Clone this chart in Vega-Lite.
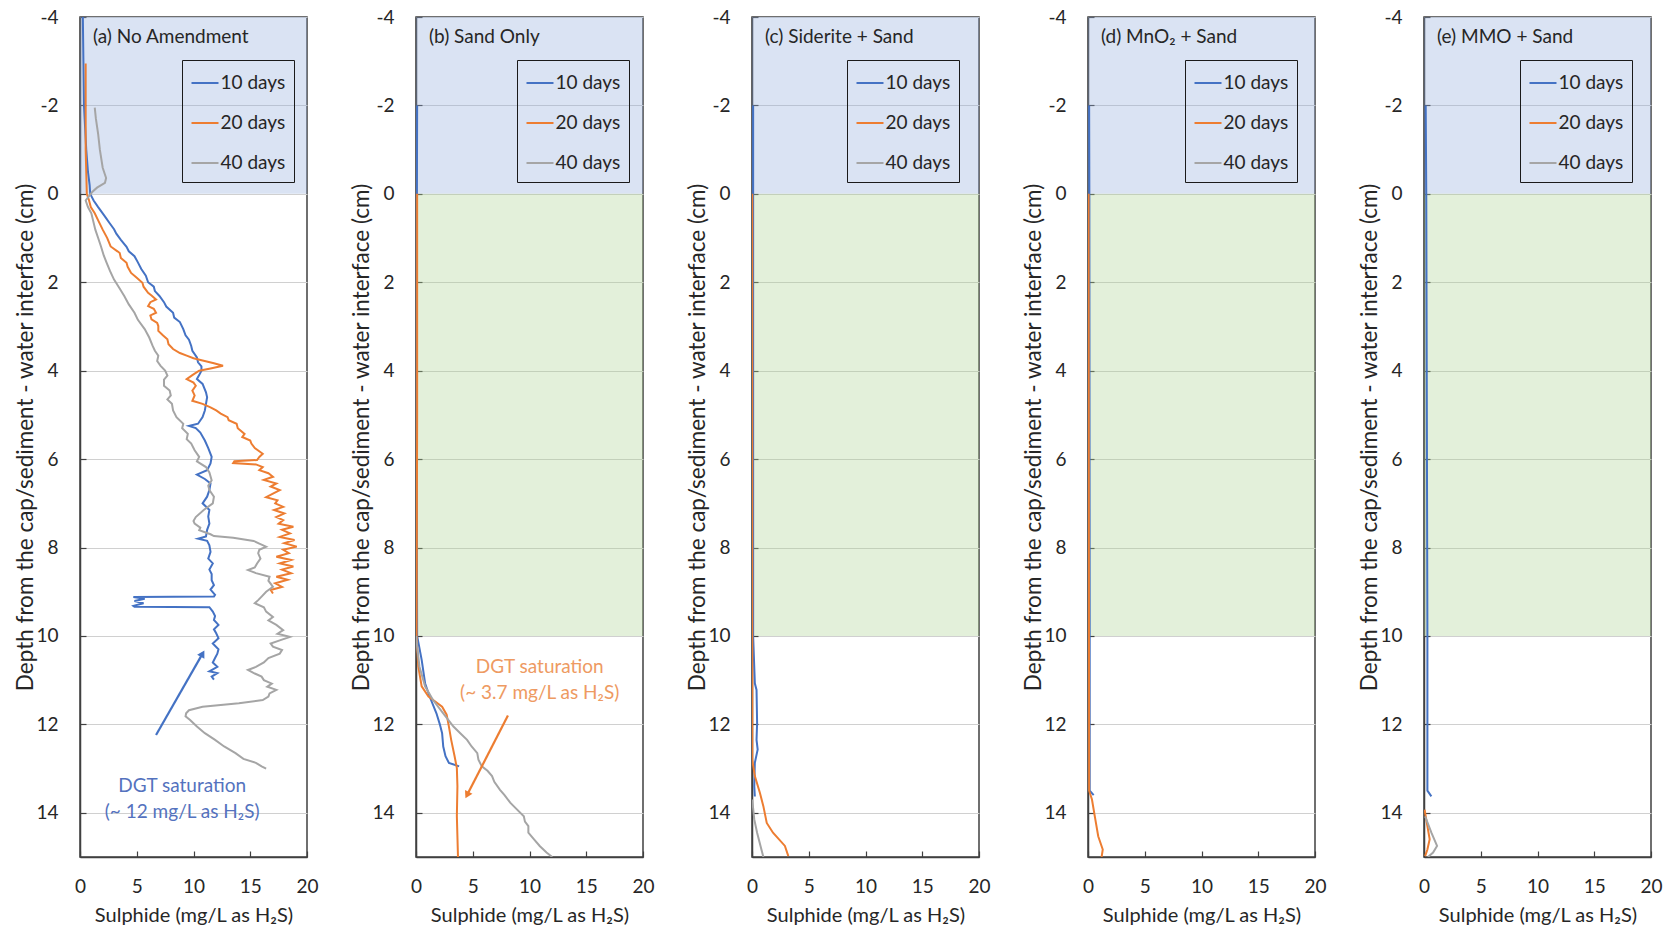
{
  "$schema": "https://vega.github.io/schema/vega-lite/v6.json",
  "padding": {"left": 14, "top": 7, "right": 4, "bottom": 0},
  "bounds": "flush",
  "spacing": 109,
  "resolve": {"legend": {"color": "independent"}},
  "config": {
    "font": "Lato",
    "view": {"stroke": "#404040", "strokeWidth": 1.5},
    "axis": {"labelFont": "Lato", "labelFontSize": 19, "labelColor": "#262626", "titleFont": "Lato", "titleFontSize": 20, "titleFontWeight": "normal", "titleColor": "#262626", "gridColor": "#D0D0D0", "gridWidth": 1, "domainColor": "#404040", "domainWidth": 1.5, "tickColor": "#404040", "tickSize": -6, "tickWidth": 1.2, "labelExpr": "'' + datum.value", "labelFlush": false},
    "axisX": {"labelPadding": 26, "titlePadding": 9},
    "axisY": {"labelPadding": 28, "titlePadding": -2, "titleFontSize": 22.5},
    "legend": {"orient": "none", "strokeColor": "#1a1a1a", "padding": 8.5, "symbolType": "stroke", "symbolSize": 729, "symbolStrokeWidth": 2, "labelFont": "Lato", "labelFontSize": 19, "labelColor": "#262626", "rowPadding": 15, "labelOffset": 1, "cornerRadius": 0, "title": null},
    "title": {"font": "Lato", "fontSize": 19, "fontWeight": "normal", "color": "#262626", "anchor": "start", "frame": "group", "offset": -39, "dx": 13}
  },
  "datasets": {
    "zones": [
      {"panel": "a", "zone": "water", "top": -4, "bottom": 0},
      {"panel": "b", "zone": "water", "top": -4, "bottom": 0},
      {"panel": "b", "zone": "cap", "top": 0, "bottom": 10},
      {"panel": "c", "zone": "water", "top": -4, "bottom": 0},
      {"panel": "c", "zone": "cap", "top": 0, "bottom": 10},
      {"panel": "d", "zone": "water", "top": -4, "bottom": 0},
      {"panel": "d", "zone": "cap", "top": 0, "bottom": 10},
      {"panel": "e", "zone": "water", "top": -4, "bottom": 0},
      {"panel": "e", "zone": "cap", "top": 0, "bottom": 10}
    ],
    "notes": [
      {"panel": "a", "label": "DGT saturation\n(~ 12 mg/L as H₂S)", "sulphide": 9.0, "depth": 13.4, "from_sulphide": 6.7, "from_depth": 12.24, "to_sulphide": 10.8, "to_depth": 10.4},
      {"panel": "b", "label": "DGT saturation\n(~ 3.7 mg/L as H₂S)", "sulphide": 10.9, "depth": 10.7, "from_sulphide": 8.1, "from_depth": 11.8, "to_sulphide": 4.5, "to_depth": 13.6}
    ],
    "profiles": [
      {"panel":"a","series":"10 days","depth":-4,"sulphide":0.25},
      {"panel":"a","series":"10 days","depth":-3,"sulphide":0.3},
      {"panel":"a","series":"10 days","depth":-2,"sulphide":0.35},
      {"panel":"a","series":"10 days","depth":-1.5,"sulphide":0.45},
      {"panel":"a","series":"10 days","depth":-1,"sulphide":0.55},
      {"panel":"a","series":"10 days","depth":-0.5,"sulphide":0.7},
      {"panel":"a","series":"10 days","depth":-0.2,"sulphide":0.85},
      {"panel":"a","series":"10 days","depth":0,"sulphide":0.9},
      {"panel":"a","series":"10 days","depth":0.15,"sulphide":1.2},
      {"panel":"a","series":"10 days","depth":0.3,"sulphide":1.6},
      {"panel":"a","series":"10 days","depth":0.44,"sulphide":2.0},
      {"panel":"a","series":"10 days","depth":0.55,"sulphide":2.3},
      {"panel":"a","series":"10 days","depth":0.66,"sulphide":2.6},
      {"panel":"a","series":"10 days","depth":0.8,"sulphide":3.0},
      {"panel":"a","series":"10 days","depth":0.9,"sulphide":3.2},
      {"panel":"a","series":"10 days","depth":1.04,"sulphide":3.6},
      {"panel":"a","series":"10 days","depth":1.2,"sulphide":4.1},
      {"panel":"a","series":"10 days","depth":1.3,"sulphide":4.3},
      {"panel":"a","series":"10 days","depth":1.41,"sulphide":4.8},
      {"panel":"a","series":"10 days","depth":1.55,"sulphide":5.1},
      {"panel":"a","series":"10 days","depth":1.7,"sulphide":5.4},
      {"panel":"a","series":"10 days","depth":1.85,"sulphide":5.8},
      {"panel":"a","series":"10 days","depth":2.0,"sulphide":6.0},
      {"panel":"a","series":"10 days","depth":2.1,"sulphide":6.5},
      {"panel":"a","series":"10 days","depth":2.2,"sulphide":6.6},
      {"panel":"a","series":"10 days","depth":2.31,"sulphide":7.0},
      {"panel":"a","series":"10 days","depth":2.45,"sulphide":7.4},
      {"panel":"a","series":"10 days","depth":2.55,"sulphide":7.6},
      {"panel":"a","series":"10 days","depth":2.69,"sulphide":8.2},
      {"panel":"a","series":"10 days","depth":2.8,"sulphide":8.3},
      {"panel":"a","series":"10 days","depth":2.9,"sulphide":8.8},
      {"panel":"a","series":"10 days","depth":3.06,"sulphide":9.1},
      {"panel":"a","series":"10 days","depth":3.2,"sulphide":9.3},
      {"panel":"a","series":"10 days","depth":3.3,"sulphide":9.6},
      {"panel":"a","series":"10 days","depth":3.44,"sulphide":9.8},
      {"panel":"a","series":"10 days","depth":3.55,"sulphide":9.9},
      {"panel":"a","series":"10 days","depth":3.7,"sulphide":10.3},
      {"panel":"a","series":"10 days","depth":3.81,"sulphide":10.4},
      {"panel":"a","series":"10 days","depth":3.9,"sulphide":10.7},
      {"panel":"a","series":"10 days","depth":4.0,"sulphide":10.7},
      {"panel":"a","series":"10 days","depth":4.1,"sulphide":10.5},
      {"panel":"a","series":"10 days","depth":4.19,"sulphide":10.3},
      {"panel":"a","series":"10 days","depth":4.3,"sulphide":10.8},
      {"panel":"a","series":"10 days","depth":4.49,"sulphide":11.1},
      {"panel":"a","series":"10 days","depth":4.6,"sulphide":11.2},
      {"panel":"a","series":"10 days","depth":4.75,"sulphide":11.1},
      {"panel":"a","series":"10 days","depth":4.9,"sulphide":11.0},
      {"panel":"a","series":"10 days","depth":5.05,"sulphide":10.8},
      {"panel":"a","series":"10 days","depth":5.2,"sulphide":10.4},
      {"panel":"a","series":"10 days","depth":5.25,"sulphide":9.6},
      {"panel":"a","series":"10 days","depth":5.3,"sulphide":10.2},
      {"panel":"a","series":"10 days","depth":5.4,"sulphide":10.6},
      {"panel":"a","series":"10 days","depth":5.58,"sulphide":11.0},
      {"panel":"a","series":"10 days","depth":5.75,"sulphide":11.3},
      {"panel":"a","series":"10 days","depth":5.95,"sulphide":11.6},
      {"panel":"a","series":"10 days","depth":6.1,"sulphide":11.5},
      {"panel":"a","series":"10 days","depth":6.25,"sulphide":11.2},
      {"panel":"a","series":"10 days","depth":6.35,"sulphide":10.3},
      {"panel":"a","series":"10 days","depth":6.45,"sulphide":11.0},
      {"panel":"a","series":"10 days","depth":6.55,"sulphide":11.5},
      {"panel":"a","series":"10 days","depth":6.7,"sulphide":11.4},
      {"panel":"a","series":"10 days","depth":6.85,"sulphide":11.2},
      {"panel":"a","series":"10 days","depth":7.0,"sulphide":10.8},
      {"panel":"a","series":"10 days","depth":7.15,"sulphide":11.4},
      {"panel":"a","series":"10 days","depth":7.3,"sulphide":11.3},
      {"panel":"a","series":"10 days","depth":7.46,"sulphide":11.4},
      {"panel":"a","series":"10 days","depth":7.6,"sulphide":11.2},
      {"panel":"a","series":"10 days","depth":7.75,"sulphide":11.1},
      {"panel":"a","series":"10 days","depth":7.8,"sulphide":10.4},
      {"panel":"a","series":"10 days","depth":7.85,"sulphide":11.2},
      {"panel":"a","series":"10 days","depth":7.95,"sulphide":11.4},
      {"panel":"a","series":"10 days","depth":8.1,"sulphide":11.5},
      {"panel":"a","series":"10 days","depth":8.25,"sulphide":11.3},
      {"panel":"a","series":"10 days","depth":8.36,"sulphide":11.7},
      {"panel":"a","series":"10 days","depth":8.5,"sulphide":11.4},
      {"panel":"a","series":"10 days","depth":8.6,"sulphide":11.6},
      {"panel":"a","series":"10 days","depth":8.74,"sulphide":11.6},
      {"panel":"a","series":"10 days","depth":8.85,"sulphide":11.8},
      {"panel":"a","series":"10 days","depth":8.95,"sulphide":11.5},
      {"panel":"a","series":"10 days","depth":9.07,"sulphide":11.9},
      {"panel":"a","series":"10 days","depth":9.11,"sulphide":11.8},
      {"panel":"a","series":"10 days","depth":9.12,"sulphide":4.7},
      {"panel":"a","series":"10 days","depth":9.16,"sulphide":5.7},
      {"panel":"a","series":"10 days","depth":9.21,"sulphide":4.8},
      {"panel":"a","series":"10 days","depth":9.26,"sulphide":5.6},
      {"panel":"a","series":"10 days","depth":9.32,"sulphide":4.7},
      {"panel":"a","series":"10 days","depth":9.34,"sulphide":4.8},
      {"panel":"a","series":"10 days","depth":9.35,"sulphide":11.4},
      {"panel":"a","series":"10 days","depth":9.45,"sulphide":11.7},
      {"panel":"a","series":"10 days","depth":9.55,"sulphide":11.9},
      {"panel":"a","series":"10 days","depth":9.64,"sulphide":11.8},
      {"panel":"a","series":"10 days","depth":9.75,"sulphide":12.2},
      {"panel":"a","series":"10 days","depth":9.85,"sulphide":11.8},
      {"panel":"a","series":"10 days","depth":9.94,"sulphide":12.0},
      {"panel":"a","series":"10 days","depth":10.05,"sulphide":12.2},
      {"panel":"a","series":"10 days","depth":10.17,"sulphide":11.7},
      {"panel":"a","series":"10 days","depth":10.3,"sulphide":12.2},
      {"panel":"a","series":"10 days","depth":10.4,"sulphide":12.1},
      {"panel":"a","series":"10 days","depth":10.5,"sulphide":11.9},
      {"panel":"a","series":"10 days","depth":10.6,"sulphide":11.7},
      {"panel":"a","series":"10 days","depth":10.7,"sulphide":12.1},
      {"panel":"a","series":"10 days","depth":10.8,"sulphide":11.4},
      {"panel":"a","series":"10 days","depth":10.84,"sulphide":12.1},
      {"panel":"a","series":"10 days","depth":10.92,"sulphide":11.6},
      {"panel":"a","series":"10 days","depth":10.99,"sulphide":11.8},

      {"panel":"a","series":"20 days","depth":-2.95,"sulphide":0.5},
      {"panel":"a","series":"20 days","depth":-2,"sulphide":0.5},
      {"panel":"a","series":"20 days","depth":-1,"sulphide":0.5},
      {"panel":"a","series":"20 days","depth":0,"sulphide":0.6},
      {"panel":"a","series":"20 days","depth":0.15,"sulphide":0.8},
      {"panel":"a","series":"20 days","depth":0.3,"sulphide":0.95},
      {"panel":"a","series":"20 days","depth":0.44,"sulphide":1.3},
      {"panel":"a","series":"20 days","depth":0.6,"sulphide":1.6},
      {"panel":"a","series":"20 days","depth":0.81,"sulphide":2.0},
      {"panel":"a","series":"20 days","depth":1.0,"sulphide":2.4},
      {"panel":"a","series":"20 days","depth":1.19,"sulphide":2.7},
      {"panel":"a","series":"20 days","depth":1.3,"sulphide":3.3},
      {"panel":"a","series":"20 days","depth":1.34,"sulphide":3.5},
      {"panel":"a","series":"20 days","depth":1.45,"sulphide":3.6},
      {"panel":"a","series":"20 days","depth":1.56,"sulphide":4.1},
      {"panel":"a","series":"20 days","depth":1.65,"sulphide":4.2},
      {"panel":"a","series":"20 days","depth":1.79,"sulphide":4.5},
      {"panel":"a","series":"20 days","depth":1.9,"sulphide":5.0},
      {"panel":"a","series":"20 days","depth":2.01,"sulphide":5.5},
      {"panel":"a","series":"20 days","depth":2.1,"sulphide":5.6},
      {"panel":"a","series":"20 days","depth":2.24,"sulphide":6.0},
      {"panel":"a","series":"20 days","depth":2.3,"sulphide":6.3},
      {"panel":"a","series":"20 days","depth":2.39,"sulphide":6.7},
      {"panel":"a","series":"20 days","depth":2.45,"sulphide":6.2},
      {"panel":"a","series":"20 days","depth":2.54,"sulphide":6.0},
      {"panel":"a","series":"20 days","depth":2.6,"sulphide":6.5},
      {"panel":"a","series":"20 days","depth":2.69,"sulphide":6.7},
      {"panel":"a","series":"20 days","depth":2.75,"sulphide":6.2},
      {"panel":"a","series":"20 days","depth":2.84,"sulphide":6.3},
      {"panel":"a","series":"20 days","depth":2.92,"sulphide":6.8},
      {"panel":"a","series":"20 days","depth":2.99,"sulphide":6.9},
      {"panel":"a","series":"20 days","depth":3.1,"sulphide":6.9},
      {"panel":"a","series":"20 days","depth":3.2,"sulphide":7.3},
      {"panel":"a","series":"20 days","depth":3.29,"sulphide":7.7},
      {"panel":"a","series":"20 days","depth":3.4,"sulphide":7.8},
      {"panel":"a","series":"20 days","depth":3.51,"sulphide":8.2},
      {"panel":"a","series":"20 days","depth":3.6,"sulphide":8.8},
      {"panel":"a","series":"20 days","depth":3.66,"sulphide":9.4},
      {"panel":"a","series":"20 days","depth":3.72,"sulphide":10.0},
      {"panel":"a","series":"20 days","depth":3.77,"sulphide":10.8},
      {"panel":"a","series":"20 days","depth":3.83,"sulphide":11.8},
      {"panel":"a","series":"20 days","depth":3.89,"sulphide":12.6},
      {"panel":"a","series":"20 days","depth":3.95,"sulphide":11.5},
      {"panel":"a","series":"20 days","depth":4.0,"sulphide":10.5},
      {"panel":"a","series":"20 days","depth":4.1,"sulphide":9.9},
      {"panel":"a","series":"20 days","depth":4.19,"sulphide":9.4},
      {"panel":"a","series":"20 days","depth":4.27,"sulphide":10.0},
      {"panel":"a","series":"20 days","depth":4.34,"sulphide":10.2},
      {"panel":"a","series":"20 days","depth":4.45,"sulphide":9.9},
      {"panel":"a","series":"20 days","depth":4.56,"sulphide":10.1},
      {"panel":"a","series":"20 days","depth":4.68,"sulphide":9.9},
      {"panel":"a","series":"20 days","depth":4.75,"sulphide":10.8},
      {"panel":"a","series":"20 days","depth":4.83,"sulphide":11.5},
      {"panel":"a","series":"20 days","depth":4.9,"sulphide":12.0},
      {"panel":"a","series":"20 days","depth":4.97,"sulphide":12.4},
      {"panel":"a","series":"20 days","depth":5.05,"sulphide":13.0},
      {"panel":"a","series":"20 days","depth":5.12,"sulphide":13.1},
      {"panel":"a","series":"20 days","depth":5.2,"sulphide":13.8},
      {"panel":"a","series":"20 days","depth":5.3,"sulphide":13.9},
      {"panel":"a","series":"20 days","depth":5.43,"sulphide":14.5},
      {"panel":"a","series":"20 days","depth":5.5,"sulphide":14.3},
      {"panel":"a","series":"20 days","depth":5.58,"sulphide":15.0},
      {"panel":"a","series":"20 days","depth":5.65,"sulphide":15.1},
      {"panel":"a","series":"20 days","depth":5.75,"sulphide":15.4},
      {"panel":"a","series":"20 days","depth":5.88,"sulphide":16.1},
      {"panel":"a","series":"20 days","depth":5.95,"sulphide":15.8},
      {"panel":"a","series":"20 days","depth":6.02,"sulphide":15.6},
      {"panel":"a","series":"20 days","depth":6.05,"sulphide":13.6},
      {"panel":"a","series":"20 days","depth":6.09,"sulphide":13.5},
      {"panel":"a","series":"20 days","depth":6.12,"sulphide":15.5},
      {"panel":"a","series":"20 days","depth":6.18,"sulphide":16.1},
      {"panel":"a","series":"20 days","depth":6.25,"sulphide":15.8},
      {"panel":"a","series":"20 days","depth":6.32,"sulphide":16.6},
      {"panel":"a","series":"20 days","depth":6.4,"sulphide":17.0},
      {"panel":"a","series":"20 days","depth":6.47,"sulphide":16.2},
      {"panel":"a","series":"20 days","depth":6.55,"sulphide":17.3},
      {"panel":"a","series":"20 days","depth":6.62,"sulphide":16.8},
      {"panel":"a","series":"20 days","depth":6.7,"sulphide":17.6},
      {"panel":"a","series":"20 days","depth":6.78,"sulphide":17.0},
      {"panel":"a","series":"20 days","depth":6.86,"sulphide":16.4},
      {"panel":"a","series":"20 days","depth":6.93,"sulphide":17.4},
      {"panel":"a","series":"20 days","depth":7.0,"sulphide":17.2},
      {"panel":"a","series":"20 days","depth":7.08,"sulphide":17.9},
      {"panel":"a","series":"20 days","depth":7.15,"sulphide":17.1},
      {"panel":"a","series":"20 days","depth":7.23,"sulphide":18.0},
      {"panel":"a","series":"20 days","depth":7.31,"sulphide":17.3},
      {"panel":"a","series":"20 days","depth":7.38,"sulphide":17.9},
      {"panel":"a","series":"20 days","depth":7.46,"sulphide":17.5},
      {"panel":"a","series":"20 days","depth":7.53,"sulphide":18.8},
      {"panel":"a","series":"20 days","depth":7.6,"sulphide":17.8},
      {"panel":"a","series":"20 days","depth":7.68,"sulphide":18.5},
      {"panel":"a","series":"20 days","depth":7.76,"sulphide":17.6},
      {"panel":"a","series":"20 days","depth":7.83,"sulphide":18.9},
      {"panel":"a","series":"20 days","depth":7.9,"sulphide":18.0},
      {"panel":"a","series":"20 days","depth":7.98,"sulphide":19.1},
      {"panel":"a","series":"20 days","depth":8.05,"sulphide":17.9},
      {"panel":"a","series":"20 days","depth":8.13,"sulphide":18.4},
      {"panel":"a","series":"20 days","depth":8.21,"sulphide":17.3},
      {"panel":"a","series":"20 days","depth":8.28,"sulphide":18.6},
      {"panel":"a","series":"20 days","depth":8.36,"sulphide":17.6},
      {"panel":"a","series":"20 days","depth":8.43,"sulphide":18.8},
      {"panel":"a","series":"20 days","depth":8.5,"sulphide":17.8},
      {"panel":"a","series":"20 days","depth":8.58,"sulphide":18.6},
      {"panel":"a","series":"20 days","depth":8.66,"sulphide":17.3},
      {"panel":"a","series":"20 days","depth":8.73,"sulphide":18.3},
      {"panel":"a","series":"20 days","depth":8.81,"sulphide":17.2},
      {"panel":"a","series":"20 days","depth":8.89,"sulphide":17.8},
      {"panel":"a","series":"20 days","depth":8.96,"sulphide":16.8},
      {"panel":"a","series":"20 days","depth":9.04,"sulphide":17.0},

      {"panel":"a","series":"40 days","depth":-1.95,"sulphide":1.3},
      {"panel":"a","series":"40 days","depth":-1.7,"sulphide":1.4},
      {"panel":"a","series":"40 days","depth":-1.35,"sulphide":1.6},
      {"panel":"a","series":"40 days","depth":-1.0,"sulphide":1.75},
      {"panel":"a","series":"40 days","depth":-0.59,"sulphide":2.0},
      {"panel":"a","series":"40 days","depth":-0.36,"sulphide":2.3},
      {"panel":"a","series":"40 days","depth":-0.25,"sulphide":2.2},
      {"panel":"a","series":"40 days","depth":-0.14,"sulphide":1.5},
      {"panel":"a","series":"40 days","depth":-0.05,"sulphide":1.1},
      {"panel":"a","series":"40 days","depth":0.0,"sulphide":0.95},
      {"panel":"a","series":"40 days","depth":0.15,"sulphide":0.5},
      {"panel":"a","series":"40 days","depth":0.3,"sulphide":0.7},
      {"panel":"a","series":"40 days","depth":0.44,"sulphide":1.0},
      {"panel":"a","series":"40 days","depth":0.6,"sulphide":1.15},
      {"panel":"a","series":"40 days","depth":0.81,"sulphide":1.35},
      {"panel":"a","series":"40 days","depth":1.0,"sulphide":1.6},
      {"panel":"a","series":"40 days","depth":1.19,"sulphide":1.85},
      {"panel":"a","series":"40 days","depth":1.4,"sulphide":2.1},
      {"panel":"a","series":"40 days","depth":1.56,"sulphide":2.35},
      {"panel":"a","series":"40 days","depth":1.75,"sulphide":2.65},
      {"panel":"a","series":"40 days","depth":1.94,"sulphide":3.0},
      {"panel":"a","series":"40 days","depth":2.1,"sulphide":3.4},
      {"panel":"a","series":"40 days","depth":2.31,"sulphide":3.9},
      {"panel":"a","series":"40 days","depth":2.5,"sulphide":4.3},
      {"panel":"a","series":"40 days","depth":2.69,"sulphide":4.8},
      {"panel":"a","series":"40 days","depth":2.85,"sulphide":5.1},
      {"panel":"a","series":"40 days","depth":3.06,"sulphide":5.7},
      {"panel":"a","series":"40 days","depth":3.25,"sulphide":6.1},
      {"panel":"a","series":"40 days","depth":3.44,"sulphide":6.4},
      {"panel":"a","series":"40 days","depth":3.55,"sulphide":6.6},
      {"panel":"a","series":"40 days","depth":3.66,"sulphide":6.9},
      {"panel":"a","series":"40 days","depth":3.78,"sulphide":6.8},
      {"panel":"a","series":"40 days","depth":3.89,"sulphide":7.1},
      {"panel":"a","series":"40 days","depth":4.0,"sulphide":7.5},
      {"panel":"a","series":"40 days","depth":4.11,"sulphide":7.7},
      {"panel":"a","series":"40 days","depth":4.2,"sulphide":7.4},
      {"panel":"a","series":"40 days","depth":4.34,"sulphide":7.4},
      {"panel":"a","series":"40 days","depth":4.45,"sulphide":7.9},
      {"panel":"a","series":"40 days","depth":4.56,"sulphide":8.0},
      {"panel":"a","series":"40 days","depth":4.65,"sulphide":7.7},
      {"panel":"a","series":"40 days","depth":4.75,"sulphide":8.1},
      {"panel":"a","series":"40 days","depth":4.9,"sulphide":8.2},
      {"panel":"a","series":"40 days","depth":5.05,"sulphide":8.5},
      {"panel":"a","series":"40 days","depth":5.2,"sulphide":9.1},
      {"panel":"a","series":"40 days","depth":5.3,"sulphide":9.0},
      {"panel":"a","series":"40 days","depth":5.43,"sulphide":9.5},
      {"panel":"a","series":"40 days","depth":5.55,"sulphide":9.4},
      {"panel":"a","series":"40 days","depth":5.65,"sulphide":9.8},
      {"panel":"a","series":"40 days","depth":5.8,"sulphide":10.1},
      {"panel":"a","series":"40 days","depth":5.95,"sulphide":10.5},
      {"panel":"a","series":"40 days","depth":6.05,"sulphide":10.3},
      {"panel":"a","series":"40 days","depth":6.18,"sulphide":11.1},
      {"panel":"a","series":"40 days","depth":6.3,"sulphide":11.4},
      {"panel":"a","series":"40 days","depth":6.48,"sulphide":11.6},
      {"panel":"a","series":"40 days","depth":6.6,"sulphide":11.3},
      {"panel":"a","series":"40 days","depth":6.7,"sulphide":11.4},
      {"panel":"a","series":"40 days","depth":6.85,"sulphide":11.8},
      {"panel":"a","series":"40 days","depth":7.0,"sulphide":11.7},
      {"panel":"a","series":"40 days","depth":7.15,"sulphide":10.9},
      {"panel":"a","series":"40 days","depth":7.31,"sulphide":10.2},
      {"panel":"a","series":"40 days","depth":7.4,"sulphide":10.0},
      {"panel":"a","series":"40 days","depth":7.46,"sulphide":10.1},
      {"panel":"a","series":"40 days","depth":7.55,"sulphide":10.6},
      {"panel":"a","series":"40 days","depth":7.61,"sulphide":10.5},
      {"panel":"a","series":"40 days","depth":7.7,"sulphide":11.5},
      {"panel":"a","series":"40 days","depth":7.74,"sulphide":11.8},
      {"panel":"a","series":"40 days","depth":7.78,"sulphide":13.5},
      {"panel":"a","series":"40 days","depth":7.85,"sulphide":15.3},
      {"panel":"a","series":"40 days","depth":7.91,"sulphide":15.8},
      {"panel":"a","series":"40 days","depth":7.98,"sulphide":16.4},
      {"panel":"a","series":"40 days","depth":8.05,"sulphide":15.8},
      {"panel":"a","series":"40 days","depth":8.13,"sulphide":15.7},
      {"panel":"a","series":"40 days","depth":8.25,"sulphide":15.9},
      {"panel":"a","series":"40 days","depth":8.36,"sulphide":15.6},
      {"panel":"a","series":"40 days","depth":8.45,"sulphide":15.4},
      {"panel":"a","series":"40 days","depth":8.51,"sulphide":14.8},
      {"panel":"a","series":"40 days","depth":8.58,"sulphide":15.5},
      {"panel":"a","series":"40 days","depth":8.66,"sulphide":16.7},
      {"panel":"a","series":"40 days","depth":8.75,"sulphide":16.6},
      {"panel":"a","series":"40 days","depth":8.89,"sulphide":17.0},
      {"panel":"a","series":"40 days","depth":9.0,"sulphide":16.4},
      {"panel":"a","series":"40 days","depth":9.11,"sulphide":16.0},
      {"panel":"a","series":"40 days","depth":9.19,"sulphide":15.7},
      {"panel":"a","series":"40 days","depth":9.26,"sulphide":15.4},
      {"panel":"a","series":"40 days","depth":9.35,"sulphide":16.2},
      {"panel":"a","series":"40 days","depth":9.45,"sulphide":16.4},
      {"panel":"a","series":"40 days","depth":9.57,"sulphide":17.0},
      {"panel":"a","series":"40 days","depth":9.65,"sulphide":16.6},
      {"panel":"a","series":"40 days","depth":9.75,"sulphide":17.3},
      {"panel":"a","series":"40 days","depth":9.87,"sulphide":17.9},
      {"panel":"a","series":"40 days","depth":9.95,"sulphide":17.4},
      {"panel":"a","series":"40 days","depth":10.02,"sulphide":18.5},
      {"panel":"a","series":"40 days","depth":10.1,"sulphide":17.6},
      {"panel":"a","series":"40 days","depth":10.17,"sulphide":16.8},
      {"panel":"a","series":"40 days","depth":10.24,"sulphide":17.0},
      {"panel":"a","series":"40 days","depth":10.32,"sulphide":17.8},
      {"panel":"a","series":"40 days","depth":10.4,"sulphide":17.6},
      {"panel":"a","series":"40 days","depth":10.5,"sulphide":16.6},
      {"panel":"a","series":"40 days","depth":10.6,"sulphide":16.2},
      {"panel":"a","series":"40 days","depth":10.7,"sulphide":15.5},
      {"panel":"a","series":"40 days","depth":10.77,"sulphide":14.8},
      {"panel":"a","series":"40 days","depth":10.85,"sulphide":15.4},
      {"panel":"a","series":"40 days","depth":10.92,"sulphide":16.0},
      {"panel":"a","series":"40 days","depth":11.0,"sulphide":16.2},
      {"panel":"a","series":"40 days","depth":11.08,"sulphide":16.9},
      {"panel":"a","series":"40 days","depth":11.15,"sulphide":16.5},
      {"panel":"a","series":"40 days","depth":11.22,"sulphide":17.3},
      {"panel":"a","series":"40 days","depth":11.3,"sulphide":16.7},
      {"panel":"a","series":"40 days","depth":11.37,"sulphide":16.6},
      {"panel":"a","series":"40 days","depth":11.45,"sulphide":16.1},
      {"panel":"a","series":"40 days","depth":11.52,"sulphide":14.0},
      {"panel":"a","series":"40 days","depth":11.6,"sulphide":10.8},
      {"panel":"a","series":"40 days","depth":11.68,"sulphide":9.6},
      {"panel":"a","series":"40 days","depth":11.75,"sulphide":9.35},
      {"panel":"a","series":"40 days","depth":11.82,"sulphide":9.3},
      {"panel":"a","series":"40 days","depth":11.9,"sulphide":9.7},
      {"panel":"a","series":"40 days","depth":12.05,"sulphide":10.3},
      {"panel":"a","series":"40 days","depth":12.2,"sulphide":11.0},
      {"panel":"a","series":"40 days","depth":12.35,"sulphide":11.9},
      {"panel":"a","series":"40 days","depth":12.5,"sulphide":12.7},
      {"panel":"a","series":"40 days","depth":12.65,"sulphide":13.7},
      {"panel":"a","series":"40 days","depth":12.78,"sulphide":14.4},
      {"panel":"a","series":"40 days","depth":12.87,"sulphide":15.5},
      {"panel":"a","series":"40 days","depth":12.95,"sulphide":16.0},
      {"panel":"a","series":"40 days","depth":13.0,"sulphide":16.4},

      {"panel":"b","series":"10 days","depth":-2,"sulphide":0.1},
      {"panel":"b","series":"10 days","depth":0,"sulphide":0.08},
      {"panel":"b","series":"10 days","depth":5,"sulphide":0.05},
      {"panel":"b","series":"10 days","depth":10,"sulphide":0.1},
      {"panel":"b","series":"10 days","depth":10.54,"sulphide":0.5},
      {"panel":"b","series":"10 days","depth":11.07,"sulphide":0.8},
      {"panel":"b","series":"10 days","depth":11.37,"sulphide":1.2},
      {"panel":"b","series":"10 days","depth":11.75,"sulphide":1.8},
      {"panel":"b","series":"10 days","depth":12.0,"sulphide":2.1},
      {"panel":"b","series":"10 days","depth":12.2,"sulphide":2.3},
      {"panel":"b","series":"10 days","depth":12.5,"sulphide":2.4},
      {"panel":"b","series":"10 days","depth":12.72,"sulphide":2.6},
      {"panel":"b","series":"10 days","depth":12.87,"sulphide":2.9},
      {"panel":"b","series":"10 days","depth":12.95,"sulphide":3.8},
      {"panel":"b","series":"20 days","depth":0,"sulphide":0.1},
      {"panel":"b","series":"20 days","depth":5,"sulphide":0.1},
      {"panel":"b","series":"20 days","depth":10,"sulphide":0.05},
      {"panel":"b","series":"20 days","depth":10.69,"sulphide":0.2},
      {"panel":"b","series":"20 days","depth":11.14,"sulphide":0.5},
      {"panel":"b","series":"20 days","depth":11.37,"sulphide":1.1},
      {"panel":"b","series":"20 days","depth":11.6,"sulphide":2.3},
      {"panel":"b","series":"20 days","depth":11.78,"sulphide":2.7},
      {"panel":"b","series":"20 days","depth":12.05,"sulphide":2.9},
      {"panel":"b","series":"20 days","depth":12.35,"sulphide":3.1},
      {"panel":"b","series":"20 days","depth":12.72,"sulphide":3.4},
      {"panel":"b","series":"20 days","depth":12.99,"sulphide":3.6},
      {"panel":"b","series":"20 days","depth":13.4,"sulphide":3.65},
      {"panel":"b","series":"20 days","depth":14.08,"sulphide":3.6},
      {"panel":"b","series":"20 days","depth":15.0,"sulphide":3.7},
      {"panel":"b","series":"40 days","depth":10,"sulphide":0.0},
      {"panel":"b","series":"40 days","depth":10.69,"sulphide":0.3},
      {"panel":"b","series":"40 days","depth":11.14,"sulphide":0.8},
      {"panel":"b","series":"40 days","depth":11.45,"sulphide":1.5},
      {"panel":"b","series":"40 days","depth":11.75,"sulphide":2.4},
      {"panel":"b","series":"40 days","depth":12.05,"sulphide":3.3},
      {"panel":"b","series":"40 days","depth":12.2,"sulphide":3.9},
      {"panel":"b","series":"40 days","depth":12.35,"sulphide":4.5},
      {"panel":"b","series":"40 days","depth":12.5,"sulphide":4.9},
      {"panel":"b","series":"40 days","depth":12.65,"sulphide":5.4},
      {"panel":"b","series":"40 days","depth":12.8,"sulphide":5.5},
      {"panel":"b","series":"40 days","depth":12.95,"sulphide":5.8},
      {"panel":"b","series":"40 days","depth":13.05,"sulphide":6.3},
      {"panel":"b","series":"40 days","depth":13.17,"sulphide":6.7},
      {"panel":"b","series":"40 days","depth":13.3,"sulphide":6.9},
      {"panel":"b","series":"40 days","depth":13.48,"sulphide":7.4},
      {"panel":"b","series":"40 days","depth":13.6,"sulphide":7.8},
      {"panel":"b","series":"40 days","depth":13.77,"sulphide":8.3},
      {"panel":"b","series":"40 days","depth":13.9,"sulphide":8.8},
      {"panel":"b","series":"40 days","depth":14.08,"sulphide":9.5},
      {"panel":"b","series":"40 days","depth":14.2,"sulphide":9.6},
      {"panel":"b","series":"40 days","depth":14.3,"sulphide":9.9},
      {"panel":"b","series":"40 days","depth":14.45,"sulphide":9.9},
      {"panel":"b","series":"40 days","depth":14.6,"sulphide":10.4},
      {"panel":"b","series":"40 days","depth":14.75,"sulphide":10.9},
      {"panel":"b","series":"40 days","depth":14.9,"sulphide":11.5},
      {"panel":"b","series":"40 days","depth":15.0,"sulphide":12.0},

      {"panel":"c","series":"10 days","depth":-2,"sulphide":0.1},
      {"panel":"c","series":"10 days","depth":0,"sulphide":0.1},
      {"panel":"c","series":"10 days","depth":10,"sulphide":0.1},
      {"panel":"c","series":"10 days","depth":11.07,"sulphide":0.25},
      {"panel":"c","series":"10 days","depth":11.22,"sulphide":0.4},
      {"panel":"c","series":"10 days","depth":11.97,"sulphide":0.45},
      {"panel":"c","series":"10 days","depth":12.35,"sulphide":0.4},
      {"panel":"c","series":"10 days","depth":12.57,"sulphide":0.5},
      {"panel":"c","series":"10 days","depth":12.87,"sulphide":0.25},
      {"panel":"c","series":"10 days","depth":13.4,"sulphide":0.2},
      {"panel":"c","series":"10 days","depth":13.63,"sulphide":0.25},
      {"panel":"c","series":"20 days","depth":0,"sulphide":0.02},
      {"panel":"c","series":"20 days","depth":12.8,"sulphide":0.02},
      {"panel":"c","series":"20 days","depth":13.17,"sulphide":0.25},
      {"panel":"c","series":"20 days","depth":13.55,"sulphide":0.7},
      {"panel":"c","series":"20 days","depth":13.85,"sulphide":1.0},
      {"panel":"c","series":"20 days","depth":14.23,"sulphide":1.3},
      {"panel":"c","series":"20 days","depth":14.45,"sulphide":1.85},
      {"panel":"c","series":"20 days","depth":14.75,"sulphide":2.9},
      {"panel":"c","series":"20 days","depth":14.98,"sulphide":3.2},
      {"panel":"c","series":"40 days","depth":13.7,"sulphide":0.02},
      {"panel":"c","series":"40 days","depth":14.15,"sulphide":0.2},
      {"panel":"c","series":"40 days","depth":14.45,"sulphide":0.45},
      {"panel":"c","series":"40 days","depth":14.75,"sulphide":0.75},
      {"panel":"c","series":"40 days","depth":15.0,"sulphide":1.0},

      {"panel":"d","series":"10 days","depth":-2,"sulphide":0.1},
      {"panel":"d","series":"10 days","depth":0,"sulphide":0.12},
      {"panel":"d","series":"10 days","depth":10,"sulphide":0.15},
      {"panel":"d","series":"10 days","depth":13.5,"sulphide":0.15},
      {"panel":"d","series":"10 days","depth":13.6,"sulphide":0.5},
      {"panel":"d","series":"20 days","depth":0,"sulphide":0.05},
      {"panel":"d","series":"20 days","depth":13.5,"sulphide":0.1},
      {"panel":"d","series":"20 days","depth":13.7,"sulphide":0.35},
      {"panel":"d","series":"20 days","depth":14.08,"sulphide":0.6},
      {"panel":"d","series":"20 days","depth":14.53,"sulphide":0.9},
      {"panel":"d","series":"20 days","depth":14.83,"sulphide":1.3},
      {"panel":"d","series":"20 days","depth":15.0,"sulphide":1.2},

      {"panel":"e","series":"10 days","depth":-2,"sulphide":0.15},
      {"panel":"e","series":"10 days","depth":0,"sulphide":0.2},
      {"panel":"e","series":"10 days","depth":10,"sulphide":0.3},
      {"panel":"e","series":"10 days","depth":13.5,"sulphide":0.3},
      {"panel":"e","series":"10 days","depth":13.63,"sulphide":0.65},
      {"panel":"e","series":"20 days","depth":13.93,"sulphide":0.05},
      {"panel":"e","series":"20 days","depth":14.3,"sulphide":0.3},
      {"panel":"e","series":"20 days","depth":14.6,"sulphide":0.5},
      {"panel":"e","series":"20 days","depth":14.83,"sulphide":0.3},
      {"panel":"e","series":"20 days","depth":14.98,"sulphide":0.1},
      {"panel":"e","series":"40 days","depth":14.08,"sulphide":0.1},
      {"panel":"e","series":"40 days","depth":14.45,"sulphide":0.65},
      {"panel":"e","series":"40 days","depth":14.75,"sulphide":1.15},
      {"panel":"e","series":"40 days","depth":14.9,"sulphide":0.8},
      {"panel":"e","series":"40 days","depth":15.0,"sulphide":0.35}
    ]
  },
  "hconcat": [
    {
      "width": 227, "height": 840,
      "title": {"text": "(a) No Amendment"},
      "layer": [
        {"data": {"name": "zones"}, "transform": [{"filter": "datum.panel == 'a' && datum.zone == 'water'"}],
         "mark": {"type": "rect", "color": "#8FAADC", "opacity": 0.33},
         "encoding": {"y": {"field": "top", "type": "quantitative", "scale": {"domain": [-4, 15], "reverse": true, "nice": false, "zero": false}}, "y2": {"field": "bottom"}, "x": {"datum": 0, "type": "quantitative", "scale": {"domain": [0, 20], "nice": false, "zero": false}}, "x2": {"datum": 20}}},
        {"data": {"name": "profiles"}, "transform": [{"filter": "datum.panel == 'a'"}],
         "mark": {"type": "line", "strokeWidth": 2, "clip": true},
         "encoding": {
           "x": {"field": "sulphide", "type": "quantitative", "scale": {"domain": [0, 20], "nice": false, "zero": false}, "axis": {"title": "Sulphide (mg/L as H₂S)", "values": [0, 5, 10, 15, 20]}},
           "y": {"field": "depth", "type": "quantitative", "scale": {"domain": [-4, 15], "reverse": true, "nice": false, "zero": false}, "axis": {"title": "Depth from the cap/sediment - water interface (cm)", "values": [-4, -2, 0, 2, 4, 6, 8, 10, 12, 14]}},
           "color": {"field": "series", "type": "nominal", "scale": {"domain": ["10 days", "20 days", "40 days"], "range": ["#4472C4", "#ED7D31", "#A5A5A5"]}, "legend": {"legendX": 102, "legendY": 43}},
           "order": {"field": "depth", "type": "quantitative"}}},
        {"mark": {"type": "rule", "color": "#000000", "strokeWidth": 2.5, "strokeDash": [7, 4]},
         "encoding": {"y": {"datum": 0, "type": "quantitative", "scale": {"domain": [-4, 15], "reverse": true, "nice": false, "zero": false}}}},
        {"data": {"name": "notes"}, "transform": [{"filter": "datum.panel == 'a'"}],
         "mark": {"type": "rule", "color": "#4472C4", "strokeWidth": 2.2},
         "encoding": {"x": {"field": "from_sulphide", "type": "quantitative", "scale": {"domain": [0, 20], "nice": false, "zero": false}}, "y": {"field": "from_depth", "type": "quantitative", "scale": {"domain": [-4, 15], "reverse": true, "nice": false, "zero": false}}, "x2": {"field": "to_sulphide"}, "y2": {"field": "to_depth"}}},
        {"data": {"name": "notes"}, "transform": [{"filter": "datum.panel == 'a'"}],
         "mark": {"type": "point", "shape": "triangle-up", "filled": true, "color": "#4472C4", "size": 70, "angle": 30, "opacity": 1},
         "encoding": {"x": {"field": "to_sulphide", "type": "quantitative", "scale": {"domain": [0, 20], "nice": false, "zero": false}}, "y": {"field": "to_depth", "type": "quantitative", "scale": {"domain": [-4, 15], "reverse": true, "nice": false, "zero": false}}}},
        {"data": {"name": "notes"}, "transform": [{"filter": "datum.panel == 'a'"}],
         "mark": {"type": "text", "color": "#5472BE", "fontSize": 19, "font": "Lato", "lineBreak": "\n", "lineHeight": 26, "align": "center", "baseline": "middle"},
         "encoding": {"x": {"field": "sulphide", "type": "quantitative", "scale": {"domain": [0, 20], "nice": false, "zero": false}}, "y": {"field": "depth", "type": "quantitative", "scale": {"domain": [-4, 15], "reverse": true, "nice": false, "zero": false}}, "text": {"field": "label"}}}
      ]
    },
    {
      "width": 227, "height": 840,
      "title": {"text": "(b) Sand Only"},
      "layer": [
        {"data": {"name": "zones"}, "transform": [{"filter": "datum.panel == 'b' && datum.zone == 'water'"}],
         "mark": {"type": "rect", "color": "#8FAADC", "opacity": 0.33},
         "encoding": {"y": {"field": "top", "type": "quantitative", "scale": {"domain": [-4, 15], "reverse": true, "nice": false, "zero": false}}, "y2": {"field": "bottom"}, "x": {"datum": 0, "type": "quantitative", "scale": {"domain": [0, 20], "nice": false, "zero": false}}, "x2": {"datum": 20}}},
        {"data": {"name": "zones"}, "transform": [{"filter": "datum.panel == 'b' && datum.zone == 'cap'"}],
         "mark": {"type": "rect", "color": "#A9D18E", "opacity": 0.33},
         "encoding": {"y": {"field": "top", "type": "quantitative", "scale": {"domain": [-4, 15], "reverse": true, "nice": false, "zero": false}}, "y2": {"field": "bottom"}, "x": {"datum": 0, "type": "quantitative", "scale": {"domain": [0, 20], "nice": false, "zero": false}}, "x2": {"datum": 20}}},
        {"data": {"name": "profiles"}, "transform": [{"filter": "datum.panel == 'b'"}],
         "mark": {"type": "line", "strokeWidth": 2, "clip": true},
         "encoding": {
           "x": {"field": "sulphide", "type": "quantitative", "scale": {"domain": [0, 20], "nice": false, "zero": false}, "axis": {"title": "Sulphide (mg/L as H₂S)", "values": [0, 5, 10, 15, 20]}},
           "y": {"field": "depth", "type": "quantitative", "scale": {"domain": [-4, 15], "reverse": true, "nice": false, "zero": false}, "axis": {"title": "Depth from the cap/sediment - water interface (cm)", "values": [-4, -2, 0, 2, 4, 6, 8, 10, 12, 14]}},
           "color": {"field": "series", "type": "nominal", "scale": {"domain": ["10 days", "20 days", "40 days"], "range": ["#4472C4", "#ED7D31", "#A5A5A5"]}, "legend": {"legendX": 101, "legendY": 43}},
           "order": {"field": "depth", "type": "quantitative"}}},
        {"mark": {"type": "rule", "color": "#000000", "strokeWidth": 2.5, "strokeDash": [7, 4]},
         "encoding": {"y": {"datum": 0, "type": "quantitative", "scale": {"domain": [-4, 15], "reverse": true, "nice": false, "zero": false}}}},
        {"data": {"name": "notes"}, "transform": [{"filter": "datum.panel == 'b'"}],
         "mark": {"type": "rule", "color": "#ED7D31", "strokeWidth": 2.2},
         "encoding": {"x": {"field": "from_sulphide", "type": "quantitative", "scale": {"domain": [0, 20], "nice": false, "zero": false}}, "y": {"field": "from_depth", "type": "quantitative", "scale": {"domain": [-4, 15], "reverse": true, "nice": false, "zero": false}}, "x2": {"field": "to_sulphide"}, "y2": {"field": "to_depth"}}},
        {"data": {"name": "notes"}, "transform": [{"filter": "datum.panel == 'b'"}],
         "mark": {"type": "point", "shape": "triangle-up", "filled": true, "color": "#ED7D31", "size": 70, "angle": 207, "opacity": 1},
         "encoding": {"x": {"field": "to_sulphide", "type": "quantitative", "scale": {"domain": [0, 20], "nice": false, "zero": false}}, "y": {"field": "to_depth", "type": "quantitative", "scale": {"domain": [-4, 15], "reverse": true, "nice": false, "zero": false}}}},
        {"data": {"name": "notes"}, "transform": [{"filter": "datum.panel == 'b'"}],
         "mark": {"type": "text", "color": "#EE9A62", "fontSize": 19, "font": "Lato", "lineBreak": "\n", "lineHeight": 26, "align": "center", "baseline": "middle"},
         "encoding": {"x": {"field": "sulphide", "type": "quantitative", "scale": {"domain": [0, 20], "nice": false, "zero": false}}, "y": {"field": "depth", "type": "quantitative", "scale": {"domain": [-4, 15], "reverse": true, "nice": false, "zero": false}}, "text": {"field": "label"}}}
      ]
    },
    {
      "width": 227, "height": 840,
      "title": {"text": "(c) Siderite + Sand"},
      "layer": [
        {"data": {"name": "zones"}, "transform": [{"filter": "datum.panel == 'c' && datum.zone == 'water'"}],
         "mark": {"type": "rect", "color": "#8FAADC", "opacity": 0.33},
         "encoding": {"y": {"field": "top", "type": "quantitative", "scale": {"domain": [-4, 15], "reverse": true, "nice": false, "zero": false}}, "y2": {"field": "bottom"}, "x": {"datum": 0, "type": "quantitative", "scale": {"domain": [0, 20], "nice": false, "zero": false}}, "x2": {"datum": 20}}},
        {"data": {"name": "zones"}, "transform": [{"filter": "datum.panel == 'c' && datum.zone == 'cap'"}],
         "mark": {"type": "rect", "color": "#A9D18E", "opacity": 0.33},
         "encoding": {"y": {"field": "top", "type": "quantitative", "scale": {"domain": [-4, 15], "reverse": true, "nice": false, "zero": false}}, "y2": {"field": "bottom"}, "x": {"datum": 0, "type": "quantitative", "scale": {"domain": [0, 20], "nice": false, "zero": false}}, "x2": {"datum": 20}}},
        {"data": {"name": "profiles"}, "transform": [{"filter": "datum.panel == 'c'"}],
         "mark": {"type": "line", "strokeWidth": 2, "clip": true},
         "encoding": {
           "x": {"field": "sulphide", "type": "quantitative", "scale": {"domain": [0, 20], "nice": false, "zero": false}, "axis": {"title": "Sulphide (mg/L as H₂S)", "values": [0, 5, 10, 15, 20]}},
           "y": {"field": "depth", "type": "quantitative", "scale": {"domain": [-4, 15], "reverse": true, "nice": false, "zero": false}, "axis": {"title": "Depth from the cap/sediment - water interface (cm)", "values": [-4, -2, 0, 2, 4, 6, 8, 10, 12, 14]}},
           "color": {"field": "series", "type": "nominal", "scale": {"domain": ["10 days", "20 days", "40 days"], "range": ["#4472C4", "#ED7D31", "#A5A5A5"]}, "legend": {"legendX": 95, "legendY": 43}},
           "order": {"field": "depth", "type": "quantitative"}}},
        {"mark": {"type": "rule", "color": "#000000", "strokeWidth": 2.5, "strokeDash": [7, 4]},
         "encoding": {"y": {"datum": 0, "type": "quantitative", "scale": {"domain": [-4, 15], "reverse": true, "nice": false, "zero": false}}}}
      ]
    },
    {
      "width": 227, "height": 840,
      "title": {"text": "(d) MnO₂ + Sand"},
      "layer": [
        {"data": {"name": "zones"}, "transform": [{"filter": "datum.panel == 'd' && datum.zone == 'water'"}],
         "mark": {"type": "rect", "color": "#8FAADC", "opacity": 0.33},
         "encoding": {"y": {"field": "top", "type": "quantitative", "scale": {"domain": [-4, 15], "reverse": true, "nice": false, "zero": false}}, "y2": {"field": "bottom"}, "x": {"datum": 0, "type": "quantitative", "scale": {"domain": [0, 20], "nice": false, "zero": false}}, "x2": {"datum": 20}}},
        {"data": {"name": "zones"}, "transform": [{"filter": "datum.panel == 'd' && datum.zone == 'cap'"}],
         "mark": {"type": "rect", "color": "#A9D18E", "opacity": 0.33},
         "encoding": {"y": {"field": "top", "type": "quantitative", "scale": {"domain": [-4, 15], "reverse": true, "nice": false, "zero": false}}, "y2": {"field": "bottom"}, "x": {"datum": 0, "type": "quantitative", "scale": {"domain": [0, 20], "nice": false, "zero": false}}, "x2": {"datum": 20}}},
        {"data": {"name": "profiles"}, "transform": [{"filter": "datum.panel == 'd'"}],
         "mark": {"type": "line", "strokeWidth": 2, "clip": true},
         "encoding": {
           "x": {"field": "sulphide", "type": "quantitative", "scale": {"domain": [0, 20], "nice": false, "zero": false}, "axis": {"title": "Sulphide (mg/L as H₂S)", "values": [0, 5, 10, 15, 20]}},
           "y": {"field": "depth", "type": "quantitative", "scale": {"domain": [-4, 15], "reverse": true, "nice": false, "zero": false}, "axis": {"title": "Depth from the cap/sediment - water interface (cm)", "values": [-4, -2, 0, 2, 4, 6, 8, 10, 12, 14]}},
           "color": {"field": "series", "type": "nominal", "scale": {"domain": ["10 days", "20 days", "40 days"], "range": ["#4472C4", "#ED7D31", "#A5A5A5"]}, "legend": {"legendX": 97, "legendY": 43}},
           "order": {"field": "depth", "type": "quantitative"}}},
        {"mark": {"type": "rule", "color": "#000000", "strokeWidth": 2.5, "strokeDash": [7, 4]},
         "encoding": {"y": {"datum": 0, "type": "quantitative", "scale": {"domain": [-4, 15], "reverse": true, "nice": false, "zero": false}}}}
      ]
    },
    {
      "width": 227, "height": 840,
      "title": {"text": "(e) MMO + Sand"},
      "layer": [
        {"data": {"name": "zones"}, "transform": [{"filter": "datum.panel == 'e' && datum.zone == 'water'"}],
         "mark": {"type": "rect", "color": "#8FAADC", "opacity": 0.33},
         "encoding": {"y": {"field": "top", "type": "quantitative", "scale": {"domain": [-4, 15], "reverse": true, "nice": false, "zero": false}}, "y2": {"field": "bottom"}, "x": {"datum": 0, "type": "quantitative", "scale": {"domain": [0, 20], "nice": false, "zero": false}}, "x2": {"datum": 20}}},
        {"data": {"name": "zones"}, "transform": [{"filter": "datum.panel == 'e' && datum.zone == 'cap'"}],
         "mark": {"type": "rect", "color": "#A9D18E", "opacity": 0.33},
         "encoding": {"y": {"field": "top", "type": "quantitative", "scale": {"domain": [-4, 15], "reverse": true, "nice": false, "zero": false}}, "y2": {"field": "bottom"}, "x": {"datum": 0, "type": "quantitative", "scale": {"domain": [0, 20], "nice": false, "zero": false}}, "x2": {"datum": 20}}},
        {"data": {"name": "profiles"}, "transform": [{"filter": "datum.panel == 'e'"}],
         "mark": {"type": "line", "strokeWidth": 2, "clip": true},
         "encoding": {
           "x": {"field": "sulphide", "type": "quantitative", "scale": {"domain": [0, 20], "nice": false, "zero": false}, "axis": {"title": "Sulphide (mg/L as H₂S)", "values": [0, 5, 10, 15, 20]}},
           "y": {"field": "depth", "type": "quantitative", "scale": {"domain": [-4, 15], "reverse": true, "nice": false, "zero": false}, "axis": {"title": "Depth from the cap/sediment - water interface (cm)", "values": [-4, -2, 0, 2, 4, 6, 8, 10, 12, 14]}},
           "color": {"field": "series", "type": "nominal", "scale": {"domain": ["10 days", "20 days", "40 days"], "range": ["#4472C4", "#ED7D31", "#A5A5A5"]}, "legend": {"legendX": 96, "legendY": 43}},
           "order": {"field": "depth", "type": "quantitative"}}},
        {"mark": {"type": "rule", "color": "#000000", "strokeWidth": 2.5, "strokeDash": [7, 4]},
         "encoding": {"y": {"datum": 0, "type": "quantitative", "scale": {"domain": [-4, 15], "reverse": true, "nice": false, "zero": false}}}}
      ]
    }
  ]
}
